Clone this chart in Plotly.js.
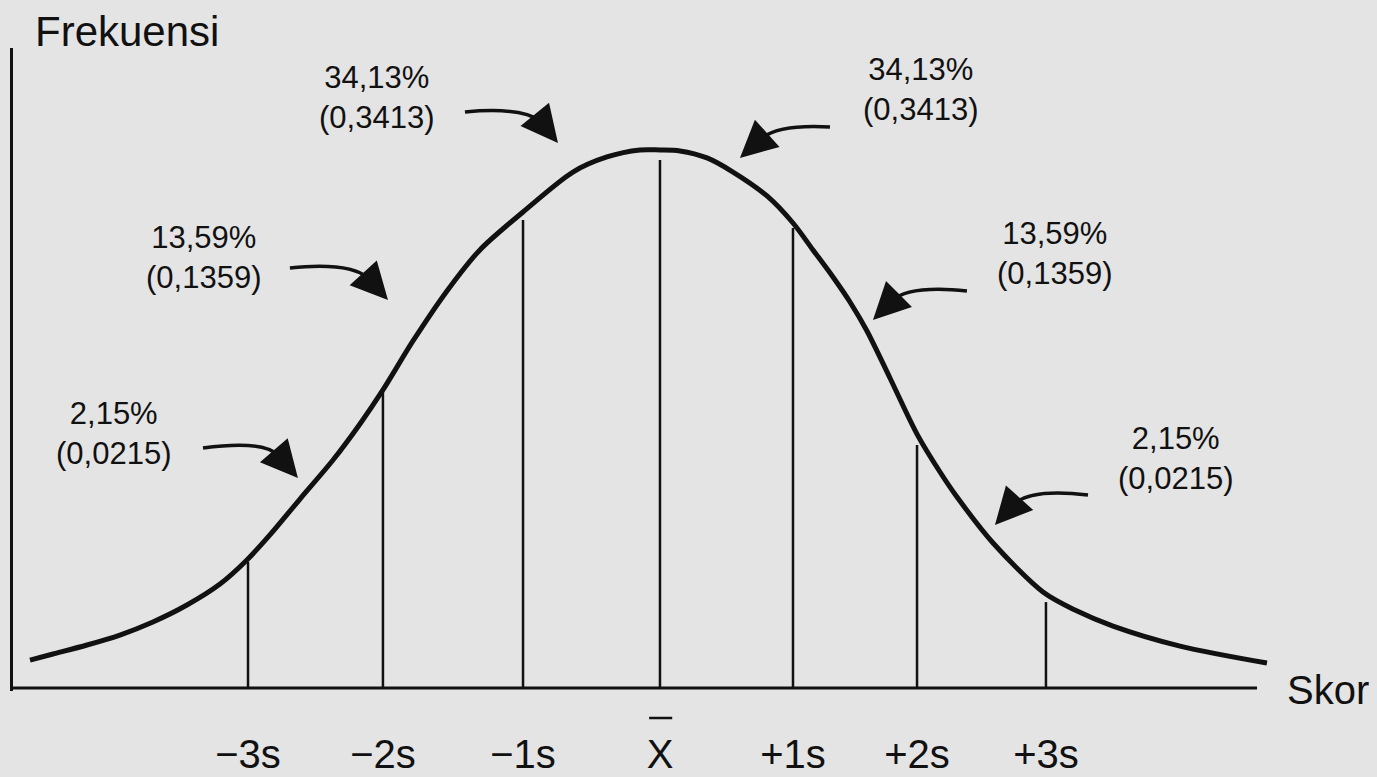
<!DOCTYPE html>
<html>
<head>
<meta charset="utf-8">
<script src="https://cdn.plot.ly/plotly-3.0.1.min.js"></script>
<style>
  html, body { margin: 0; padding: 0; background: #e4e4e4; }
  #chart { width: 1377px; height: 777px; }
</style>
</head>
<body>
<div id="chart"></div>
<script>
// ---- Curve (x in units of s, mean = 0; y = relative frequency) ----
const curveX = [-4.632, -4.463, -4.213, -3.971, -3.728, -3.478, -3.235, -3.037, -2.868, -2.647,
                -2.404, -2.206, -2.037, -1.816, -1.566, -1.324, -1.007, -0.640, -0.390,
                -0.147, 0.000, 0.147, 0.346, 0.537, 0.787, 0.978, 1.125, 1.272, 1.397,
                1.522, 1.691, 1.890, 2.059, 2.184, 2.449, 2.816, 3.051, 3.331, 3.824, 4.463];
const curveY = [0.0208, 0.0253, 0.0320, 0.0394, 0.0491, 0.0617, 0.0773, 0.0952, 0.1138, 0.1405,
                0.1695, 0.1963, 0.2216, 0.2580, 0.2952, 0.3257, 0.3539, 0.3836, 0.3948,
                0.4000, 0.4000, 0.3993, 0.3941, 0.3836, 0.3658, 0.3457, 0.3257, 0.3056, 0.2870,
                0.2654, 0.2305, 0.1888, 0.1606, 0.1420, 0.1078, 0.0714, 0.0580, 0.0461, 0.0312, 0.0186];

// ---- Vertical division lines and their tick labels ----
const lineX = [-3.029, -2.037, -1.007, 0, 0.978, 1.890, 2.838];
const lineTop = [0.0937, 0.2216, 0.348, 0.3926, 0.342, 0.1807, 0.0639];
const tickLabels = ['\u22123s', '\u22122s', '\u22121s', 'X', '+1s', '+2s', '+3s'];

// ---- Area labels (order: left tail, left, left centre, right centre, right, right tail) ----
const pctLabels  = ['2,15%', '13,59%', '34,13%', '34,13%', '13,59%', '2,15%'];
const propLabels = ['(0,0215)', '(0,1359)', '(0,3413)', '(0,3413)', '(0,1359)', '(0,0215)'];
const labelX = [-4.015, -3.353, -2.081, 1.919, 2.904, 3.794];
const labelY = [0.189, 0.320, 0.439, 0.445, 0.323, 0.171];

// ---- Curved arrows: tail -> (bend) -> neck (shaft), neck -> tip (head) ----
const arrowTailX = [-3.360, -2.721, -1.434, 1.250, 2.257, 3.147];
const arrowTailY = [0.1784, 0.3123, 0.4283, 0.4171, 0.2952, 0.1435];
const arrowBendX = [-2.926, -2.279, -1.015, 0.882, 1.824, 2.721];
const arrowBendY = [0.1844, 0.3167, 0.4320, 0.4193, 0.2996, 0.1487];
const arrowNeckX = [-2.809, -2.147, -0.882, 0.750, 1.706, 2.596];
const arrowNeckY = [0.1732, 0.3048, 0.4216, 0.4089, 0.2877, 0.1361];
const arrowTipX  = [-2.662, -2.000, -0.750, 0.588, 1.566, 2.463];
const arrowTipY  = [0.1561, 0.2885, 0.4052, 0.3941, 0.2736, 0.1212];

// axis extents
const axisStartX = -4.757, axisEndX = 4.39, yAxisTop = 0.4758;

const ink = '#111111';
const font = '"Liberation Sans", Arial, sans-serif';

// vertical division lines
const vx = [], vy = [];
lineX.forEach((x, i) => { vx.push(x, x, null); vy.push(0, lineTop[i], null); });

const traces = [
  { type: 'scatter', mode: 'lines', x: vx, y: vy, line: { color: ink, width: 2.5 }, hoverinfo: 'skip', showlegend: false },
  { type: 'scatter', mode: 'lines', x: curveX, y: curveY, line: { color: ink, width: 5, shape: 'spline', smoothing: 0.85 }, hoverinfo: 'skip', showlegend: false }
];

const shapes = [
  // x-axis (baseline)
  { type: 'line', xref: 'x', yref: 'y', x0: axisStartX, x1: axisEndX, y0: 0, y1: 0,
    line: { color: ink, width: 3 } },
  // bar over the X of the mean label
  { type: 'line', xref: 'x', yref: 'paper', x0: -0.08, x1: 0.09, y0: -0.042, y1: -0.042,
    line: { color: ink, width: 2.5 } }
];

const annotations = [];
pctLabels.forEach((p, i) => {
  annotations.push({
    x: labelX[i], y: labelY[i], xref: 'x', yref: 'y',
    text: p + '<br>' + propLabels[i], showarrow: false,
    font: { family: font, size: 31, color: ink }, align: 'center',
    xanchor: 'center', yanchor: 'middle'
  });
  shapes.push({
    type: 'path', xref: 'x', yref: 'y',
    path: 'M ' + arrowTailX[i] + ',' + arrowTailY[i] +
          ' Q ' + arrowBendX[i] + ',' + arrowBendY[i] +
          ' ' + arrowNeckX[i] + ',' + arrowNeckY[i],
    line: { color: ink, width: 3.5 }
  });
  annotations.push({
    x: arrowTipX[i], y: arrowTipY[i], xref: 'x', yref: 'y',
    ax: arrowNeckX[i], ay: arrowNeckY[i], axref: 'x', ayref: 'y',
    text: '', showarrow: true, arrowhead: 2, arrowsize: 2.1, arrowwidth: 3.5,
    arrowcolor: ink, standoff: 0
  });
});
annotations.push({
  x: 4.912, y: -0.0015, xref: 'x', yref: 'y', text: 'Skor', showarrow: false,
  font: { family: font, size: 40, color: ink }, xanchor: 'center', yanchor: 'middle'
});

const layout = {
  width: 1377, height: 777,
  paper_bgcolor: '#e4e4e4', plot_bgcolor: '#e4e4e4',
  margin: { l: 13, r: 0, t: 48, b: 86 },
  showlegend: false, hovermode: false,
  font: { family: font, color: ink },
  title: {
    text: 'Frekuensi', xref: 'container', yref: 'container',
    x: 35 / 1377, xanchor: 'left', y: 1 - 31 / 777, yanchor: 'middle',
    font: { family: font, size: 42, color: ink }
  },
  xaxis: {
    range: [axisStartX, 5.272], showgrid: false, zeroline: false, showline: false,
    tickmode: 'array', tickvals: lineX, ticktext: tickLabels, ticks: '',
    tickfont: { family: font, size: 40, color: ink }, ticklabelstandoff: 36,
    fixedrange: true
  },
  yaxis: {
    range: [-0.0022, yAxisTop], showgrid: false, zeroline: false,
    showline: true, linewidth: 3, linecolor: ink,
    showticklabels: false, ticks: '', fixedrange: true
  },
  shapes: shapes,
  annotations: annotations
};

Plotly.newPlot('chart', traces, layout, { displayModeBar: false, staticPlot: true });
</script>
</body>
</html>
